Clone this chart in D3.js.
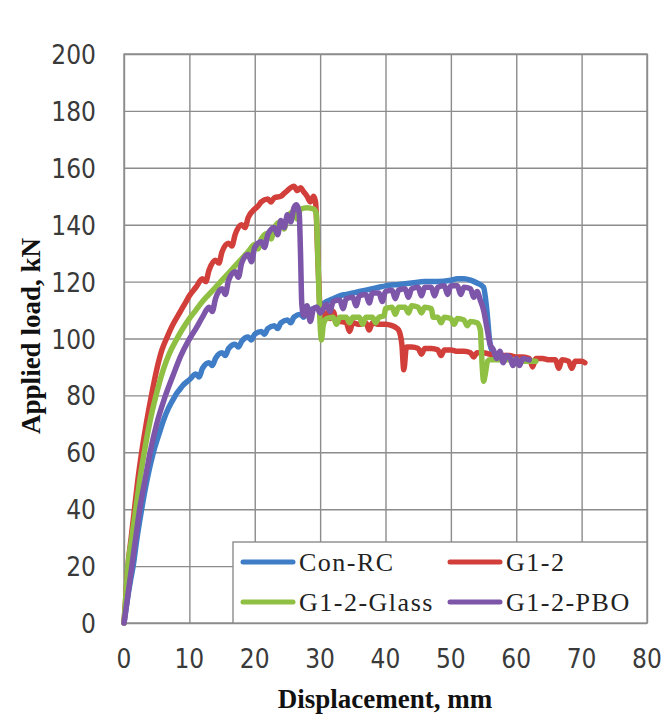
<!DOCTYPE html>
<html>
<head>
<meta charset="utf-8">
<script src="https://cdn.jsdelivr.net/npm/d3@7"></script>
<style>
  html, body { margin: 0; padding: 0; background: #fff; }
  svg { display: block; }
</style>
</head>
<body>
<svg id="chart" width="666" height="717"></svg>
<script>
// Load–displacement curves, [displacement mm, load kN]
const seriesNames = ["Con-RC", "G1-2", "G1-2-Glass", "G1-2-PBO"];
const seriesColors = ["#3f7dc6", "#d23f3a", "#8fc043", "#7d55a9"];

const conRC = [[0,0],[0.5,8],[1,15],[1.4,20],[2,30],[2.7,40],[3.5,50],[4.5,60],[5.3,66],[6,71],[6.8,75.5],[7.5,78.5],[8,80.5],[8.5,82],[9,83.5],[10,85.5],[11,87.5],[11.5,86.5],[12,89.5],[13,91.5],[13.5,90.5],[14,93],[15,95],[15.5,94],[16,96.5],[17,98],[17.5,97],[18,99],[19,100.5],[19.5,99.5],[20,101.5],[21,102.5],[21.5,101.5],[22,103.5],[23,104.5],[23.5,103.5],[24,105.5],[25,106.5],[25.5,105.5],[26,107.5],[27,108.5],[27.5,107.5],[28,109.5],[29,110.5],[30,111.5],[31,113],[32,114],[33,115],[34,115.5],[35,116],[36,116.5],[37,117],[38,117.5],[39,118],[40,118.5],[42,119],[44,119.5],[46,120],[48,120],[50,120.5],[51,121],[52,121],[53,120.5],[54,119.5],[55,118],[55.5,110],[56,98],[56.5,95],[57,94.5],[58,94],[59,93.5],[60,93],[61,93],[62,92.5]];

const g12 = [[0,0],[0.3,10],[0.6,20],[1.1,30],[1.6,40],[2.1,50],[2.7,60],[3.4,70],[4.2,80],[5.1,90],[5.8,96],[6.6,100.5],[7.5,105],[8.5,109],[9.5,113],[10,115],[11,118],[12,121],[12.5,120],[13,124],[14,127.5],[14.5,126.5],[15,130.5],[16,133.5],[16.5,132.5],[17,136.5],[18,140],[18.5,139],[19,142.5],[20,145.5],[20.5,146.5],[21,148],[22,149],[22.5,148],[23,149.5],[24,150],[24.5,151],[25,152],[25.5,153],[26,153.5],[26.5,152],[27,153],[27.5,151.5],[28,150],[28.5,148],[29,150],[29.3,148],[29.7,125],[30,110],[30.3,107],[31,109],[31.5,107],[32,109.5],[32.5,106],[33,106],[34,105.5],[34.5,102.5],[35,105.5],[36,105],[37,105.5],[37.5,103],[38,105.5],[39,105],[40,105],[41,104.5],[41.5,104],[42,103],[42.5,98],[42.8,89],[43.2,97],[44,97],[45,96.5],[45.5,94.5],[46,96.5],[47,96.5],[48,96],[48.5,94],[49,96],[50,96],[51,95.5],[52,95.5],[53,95],[53.5,93.5],[54,95],[55,95],[56,94.5],[57,94.5],[58,94],[59,94],[60,93.5],[61,93.5],[62,93],[62.5,90],[63,93],[64,93],[65,92.5],[66,92.5],[66.5,89.5],[67,92.5],[68,92],[68.5,89.5],[69,92],[70,92],[70.5,91.5]];

const g12Glass = [[0,0],[0.3,10],[0.6,20],[1.2,30],[1.8,40],[2.4,50],[3.1,60],[3.9,70],[4.9,80],[6,89],[7,95],[8,99.5],[9,103.5],[10,107],[11,110],[12,113],[13,115.5],[14,118],[15,120.5],[16,123],[17,125.5],[18,128],[19,130.5],[20,133],[20.5,131.5],[21,135],[22,137],[22.5,135],[23,139],[24,141],[24.5,138.5],[25,143],[26,144.5],[26.5,142],[27,145.5],[28,146],[29,145.5],[29.4,144],[29.7,125],[30,105],[30.2,99.5],[30.5,105],[31,107],[32,107.5],[32.5,105],[33,107.5],[34,107.5],[34.5,105.5],[35,107.5],[36,107.5],[36.5,105],[37,107.5],[38,107.5],[38.5,105.5],[39,107.5],[39.8,108],[40,110.5],[41,111],[41.5,108.5],[42,111],[43,111],[43.5,109],[44,111.5],[45,111],[45.5,109],[46,111],[47,110.5],[47.3,107.5],[48,107.5],[48.5,105.5],[49,107.5],[50,107],[50.5,105],[51,107],[52,106.5],[52.5,104.5],[53,106],[54,105.5],[54.5,103],[54.8,90],[55,85],[55.3,88],[55.6,92],[56,92.5],[57,92.5],[58,92.5],[59,92.5],[60,92.5],[61,92],[62,92],[63,92]];

const g12PBO = [[0,0],[0.6,10],[1.2,20],[1.8,30],[2.4,40],[3.2,50],[4,60],[5,70],[6.2,79],[7.5,87],[8.7,94],[9.8,99],[11,103.5],[12,107.5],[13,111],[13.5,109.5],[14,114],[15,117.5],[15.5,115.5],[16,120.5],[17,123.5],[17.5,121.5],[18,126.5],[19,129.5],[19.5,127],[20,132],[21,134],[21.5,132],[22,136.5],[23,139],[23.5,136.5],[24,141.5],[24.5,139],[25,143.5],[25.5,141],[26,146],[26.4,147],[26.8,144],[27,130],[27.2,112],[27.5,108],[28,111.5],[28.5,106],[29,110.5],[29.5,111],[30,109],[31,112],[31.5,109.5],[32,113],[33,113.5],[33.5,110.5],[34,114],[35,114.5],[35.5,111.5],[36,115],[37,115.5],[37.5,112.5],[38,116],[39,116],[39.5,113],[40,116.5],[41,117],[41.5,114],[42,117],[43,117.5],[43.5,114.5],[44,117.5],[45,118],[45.5,115],[46,118],[47,118],[47.5,115],[48,118],[49,118.5],[49.5,115.5],[50,118.5],[51,118.5],[51.5,115.5],[52,118],[53,117.5],[53.5,114.5],[54,116.5],[54.5,113.5],[55,110],[55.5,104],[56,98],[56.5,96],[57,93],[57.5,95.5],[58,91.5],[58.5,94],[59,93.5],[59.5,90.5],[60,93],[60.5,90.5],[61,93],[62,92.5]];

const xTicks = [0, 10, 20, 30, 40, 50, 60, 70, 80];
const yTicks = [0, 20, 40, 60, 80, 100, 120, 140, 160, 180, 200];
const xTitle = "Displacement, mm";
const yTitle = "Applied load, kN";

const allSeries = [conRC, g12, g12Glass, g12PBO];

const svg = d3.select("#chart");
const plot = { left: 124, right: 647, top: 54, bottom: 623 };

const x = d3.scaleLinear().domain([0, 80]).range([plot.left, plot.right]);
const y = d3.scaleLinear().domain([0, 200]).range([plot.bottom, plot.top]);

const gridColor = "#8c8c8c";
const tickFont = "'Liberation Sans Narrow', 'DejaVu Sans Condensed', 'Liberation Sans', sans-serif";
const serif = "'Liberation Serif', 'DejaVu Serif', serif";

// Gridlines via axes with full-length ticks
svg.append("g")
  .attr("transform", `translate(0,${plot.bottom})`)
  .call(d3.axisBottom(x).tickValues(xTicks).tickSize(-(plot.bottom - plot.top)).tickFormat(""))
  .call(g => g.select(".domain").remove())
  .call(g => g.selectAll("line").attr("stroke", gridColor).attr("stroke-width", 1.4));

svg.append("g")
  .attr("transform", `translate(${plot.left},0)`)
  .call(d3.axisLeft(y).tickValues(yTicks).tickSize(-(plot.right - plot.left)).tickFormat(""))
  .call(g => g.select(".domain").remove())
  .call(g => g.selectAll("line").attr("stroke", gridColor).attr("stroke-width", 1.4));

// Plot frame
svg.append("rect")
  .attr("x", plot.left).attr("y", plot.top)
  .attr("width", plot.right - plot.left).attr("height", plot.bottom - plot.top)
  .attr("fill", "none").attr("stroke", gridColor).attr("stroke-width", 1.4);

// Tick labels
svg.append("g").selectAll("text").data(xTicks).join("text")
  .attr("x", d => x(d)).attr("y", 668)
  .attr("text-anchor", "middle")
  .attr("font-family", tickFont).attr("font-size", 26).attr("fill", "#3a3a3a")
  .text(d => d);

svg.append("g").selectAll("text").data(yTicks).join("text")
  .attr("x", 96).attr("y", d => y(d) + 10)
  .attr("text-anchor", "end")
  .attr("font-family", tickFont).attr("font-size", 26).attr("fill", "#3a3a3a")
  .text(d => d);

// Axis titles
svg.append("text")
  .attr("x", 385).attr("y", 708)
  .attr("text-anchor", "middle")
  .attr("font-family", serif).attr("font-weight", "bold").attr("font-size", 27)
  .attr("fill", "#111")
  .text(xTitle);

svg.append("text")
  .attr("transform", "translate(40,336) rotate(-90)")
  .attr("text-anchor", "middle")
  .attr("font-family", serif).attr("font-weight", "bold").attr("font-size", 27)
  .attr("fill", "#111")
  .text(yTitle);

// Curves
const line = d3.line().curve(d3.curveMonotoneX).x(d => x(d[0])).y(d => y(d[1]));
svg.append("g").selectAll("path").data(allSeries).join("path")
  .attr("d", line)
  .attr("fill", "none")
  .attr("stroke", (d, i) => seriesColors[i])
  .attr("stroke-width", 5.5)
  .attr("stroke-linejoin", "round")
  .attr("stroke-linecap", "round");

// Legend (inside plot, bottom right)
const legend = svg.append("g");
legend.append("rect")
  .attr("x", 233).attr("y", 542)
  .attr("width", plot.right - 233).attr("height", plot.bottom - 542)
  .attr("fill", "#fff").attr("stroke", gridColor).attr("stroke-width", 1.4);

const legendPos = [
  { lx: 243, ty: 562 }, { lx: 450, ty: 562 },
  { lx: 243, ty: 602 }, { lx: 450, ty: 602 }
];
seriesNames.forEach((name, i) => {
  const p = legendPos[i];
  legend.append("line")
    .attr("x1", p.lx).attr("x2", p.lx + 50)
    .attr("y1", p.ty).attr("y2", p.ty)
    .attr("stroke", seriesColors[i]).attr("stroke-width", 5)
    .attr("stroke-linecap", "round");
  legend.append("text")
    .attr("x", p.lx + 56).attr("y", p.ty + 9)
    .attr("font-family", serif).attr("font-size", 26)
    .attr("letter-spacing", 1.5)
    .attr("fill", "#222")
    .text(name);
});
</script>
</body>
</html>
